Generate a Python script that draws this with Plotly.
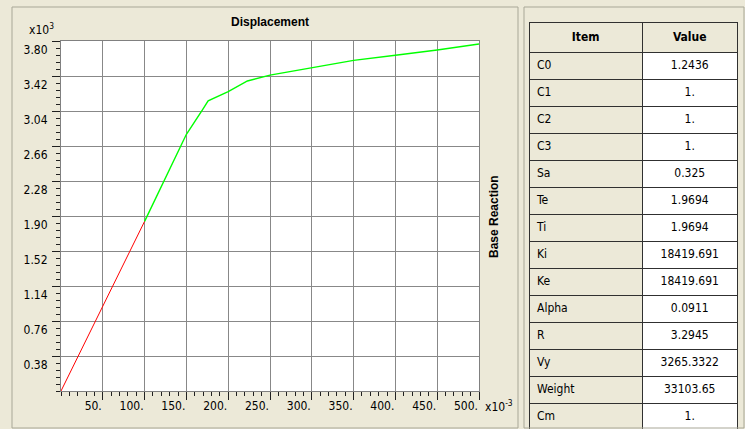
"""Pushover curve (Base Reaction vs Displacement) with parameter table."""
import plotly.graph_objects as go

# --- curve data (displacement in m, base reaction in kN) ---
disp_elastic = [0.0, 0.100]
react_elastic = [0.0, 1842.0]
disp_plastic = [0.100, 0.150, 0.169, 0.176, 0.200, 0.223, 0.250, 0.285,
                0.300, 0.350, 0.400, 0.450, 0.500]
react_plastic = [1842.0, 2787.0, 3050.0, 3150.0, 3250.0, 3366.0, 3430.0, 3485.0,
                 3510.0, 3590.0, 3645.0, 3702.0, 3768.0]

# --- axis ticks (display units: x10^-3 and x10^3) ---
x_ticks = [50, 100, 150, 200, 250, 300, 350, 400, 450, 500]
x_ticktext = ["50.", "100.", "150.", "200.", "250.", "300.", "350.", "400.", "450.", "500."]
y_ticks = [0.38, 0.76, 1.14, 1.52, 1.90, 2.28, 2.66, 3.04, 3.42, 3.80]
y_ticktext = ["0.38", "0.76", "1.14", "1.52", "1.90", "2.28", "2.66", "3.04", "3.42", "3.80"]

# --- table ---
items = ["C0", "C1", "C2", "C3", "Sa", "Te", "Ti", "Ki", "Ke", "Alpha",
         "R", "Vy", "Weight", "Cm"]
values = ["1.2436", "1.", "1.", "1.", "0.325", "1.9694", "1.9694", "18419.691",
          "18419.691", "0.0911", "3.2945", "3265.3322", "33103.65", "1."]

W, H = 745, 429
BG = "#ECE9D8"
FONT = "Liberation Sans, Arial, sans-serif"
NARROW = "Liberation Sans Narrow, DejaVu Sans Condensed, Liberation Sans, sans-serif"


def px_x(p):
    return p / W


def px_y(p):
    return 1 - p / H


fig = go.Figure()

fig.add_trace(go.Scatter(
    x=[v * 1000 for v in disp_elastic], y=[v / 1000 for v in react_elastic],
    mode="lines", line=dict(color="#FF0000", width=1), showlegend=False,
))
fig.add_trace(go.Scatter(
    x=[v * 1000 for v in disp_plastic], y=[v / 1000 for v in react_plastic],
    mode="lines", line=dict(color="#00FF00", width=1.4), showlegend=False,
))

fig.add_trace(go.Table(
    domain=dict(x=[px_x(529), px_x(738)], y=[0, px_y(22)]),
    columnwidth=[114, 95],
    header=dict(
        values=["<b>Item</b>", "<b>Value</b>"],
        fill_color=BG, line=dict(color="#303030", width=1),
        align="center", height=24,
        font=dict(family=NARROW, size=12, color="black"),
    ),
    cells=dict(
        values=[items, values],
        fill_color=[[BG] * len(items), ["white"] * len(items)],
        line=dict(color="#303030", width=1),
        align=["left", "center"], height=27,
        font=dict(family=NARROW, size=12, color="black"),
    ),
))

axis_common = dict(
    showline=True, linecolor="#808080", linewidth=1, mirror=True,
    showgrid=True, gridcolor="#888888", gridwidth=1,
    ticks="outside", ticklen=8, tickcolor="#202020", tickwidth=1,
    tickfont=dict(family=NARROW, size=12, color="black"),
    zeroline=False, automargin=False,
)

fig.update_layout(
    width=W, height=H,
    margin=dict(l=0, r=0, t=0, b=0),
    paper_bgcolor=BG, plot_bgcolor="white",
    xaxis=dict(
        domain=[px_x(61), px_x(479)], range=[0, 500],
        tickvals=x_ticks, ticktext=x_ticktext, ticklabelposition="outside left",
        ticklabelstandoff=4,
        minor=dict(dtick=10, tick0=0, ticks="outside", ticklen=4,
                   tickcolor="#202020", showgrid=False),
        **axis_common,
    ),
    yaxis=dict(
        domain=[px_y(391), px_y(41)], range=[0, 3.80],
        tickvals=y_ticks, ticktext=y_ticktext,
        ticklabelposition="outside bottom", ticklabelstandoff=10,
        minor=dict(dtick=0.076, tick0=0, ticks="outside", ticklen=4,
                   tickcolor="#202020", showgrid=False),
        **axis_common,
    ),
    font=dict(family=FONT, color="black"),
)

# panel borders
fig.add_shape(type="rect", xref="paper", yref="paper",
              x0=px_x(12), x1=px_x(518), y0=px_y(428), y1=px_y(7),
              line=dict(color="#A8A797", width=1))
fig.add_shape(type="rect", xref="paper", yref="paper",
              x0=px_x(524), x1=px_x(744), y0=px_y(428), y1=px_y(7),
              line=dict(color="#A8A797", width=1))

label = dict(xref="paper", yref="paper", showarrow=False,
             xanchor="center", yanchor="middle")
fig.add_annotation(text="<b>Displacement</b>", x=px_x(270), y=px_y(22),
                   font=dict(family=FONT, size=12, color="black"), **label)
fig.add_annotation(text="<b>Base Reaction</b>", x=px_x(494), y=px_y(216),
                   textangle=-90, font=dict(family=FONT, size=12, color="black"), **label)
fig.add_annotation(text="x10<sup>3</sup>", x=px_x(41), y=px_y(29),
                   font=dict(family=NARROW, size=12, color="black"), **label)
fig.add_annotation(text="x10<sup>-3</sup>", x=px_x(499), y=px_y(406),
                   font=dict(family=NARROW, size=12, color="black"), **label)

fig.write_html(
    "out.html",
    config={"displayModeBar": False},
    post_script="document.body.style.margin='0';"
                "document.body.style.background='#ECE9D8';",
)
